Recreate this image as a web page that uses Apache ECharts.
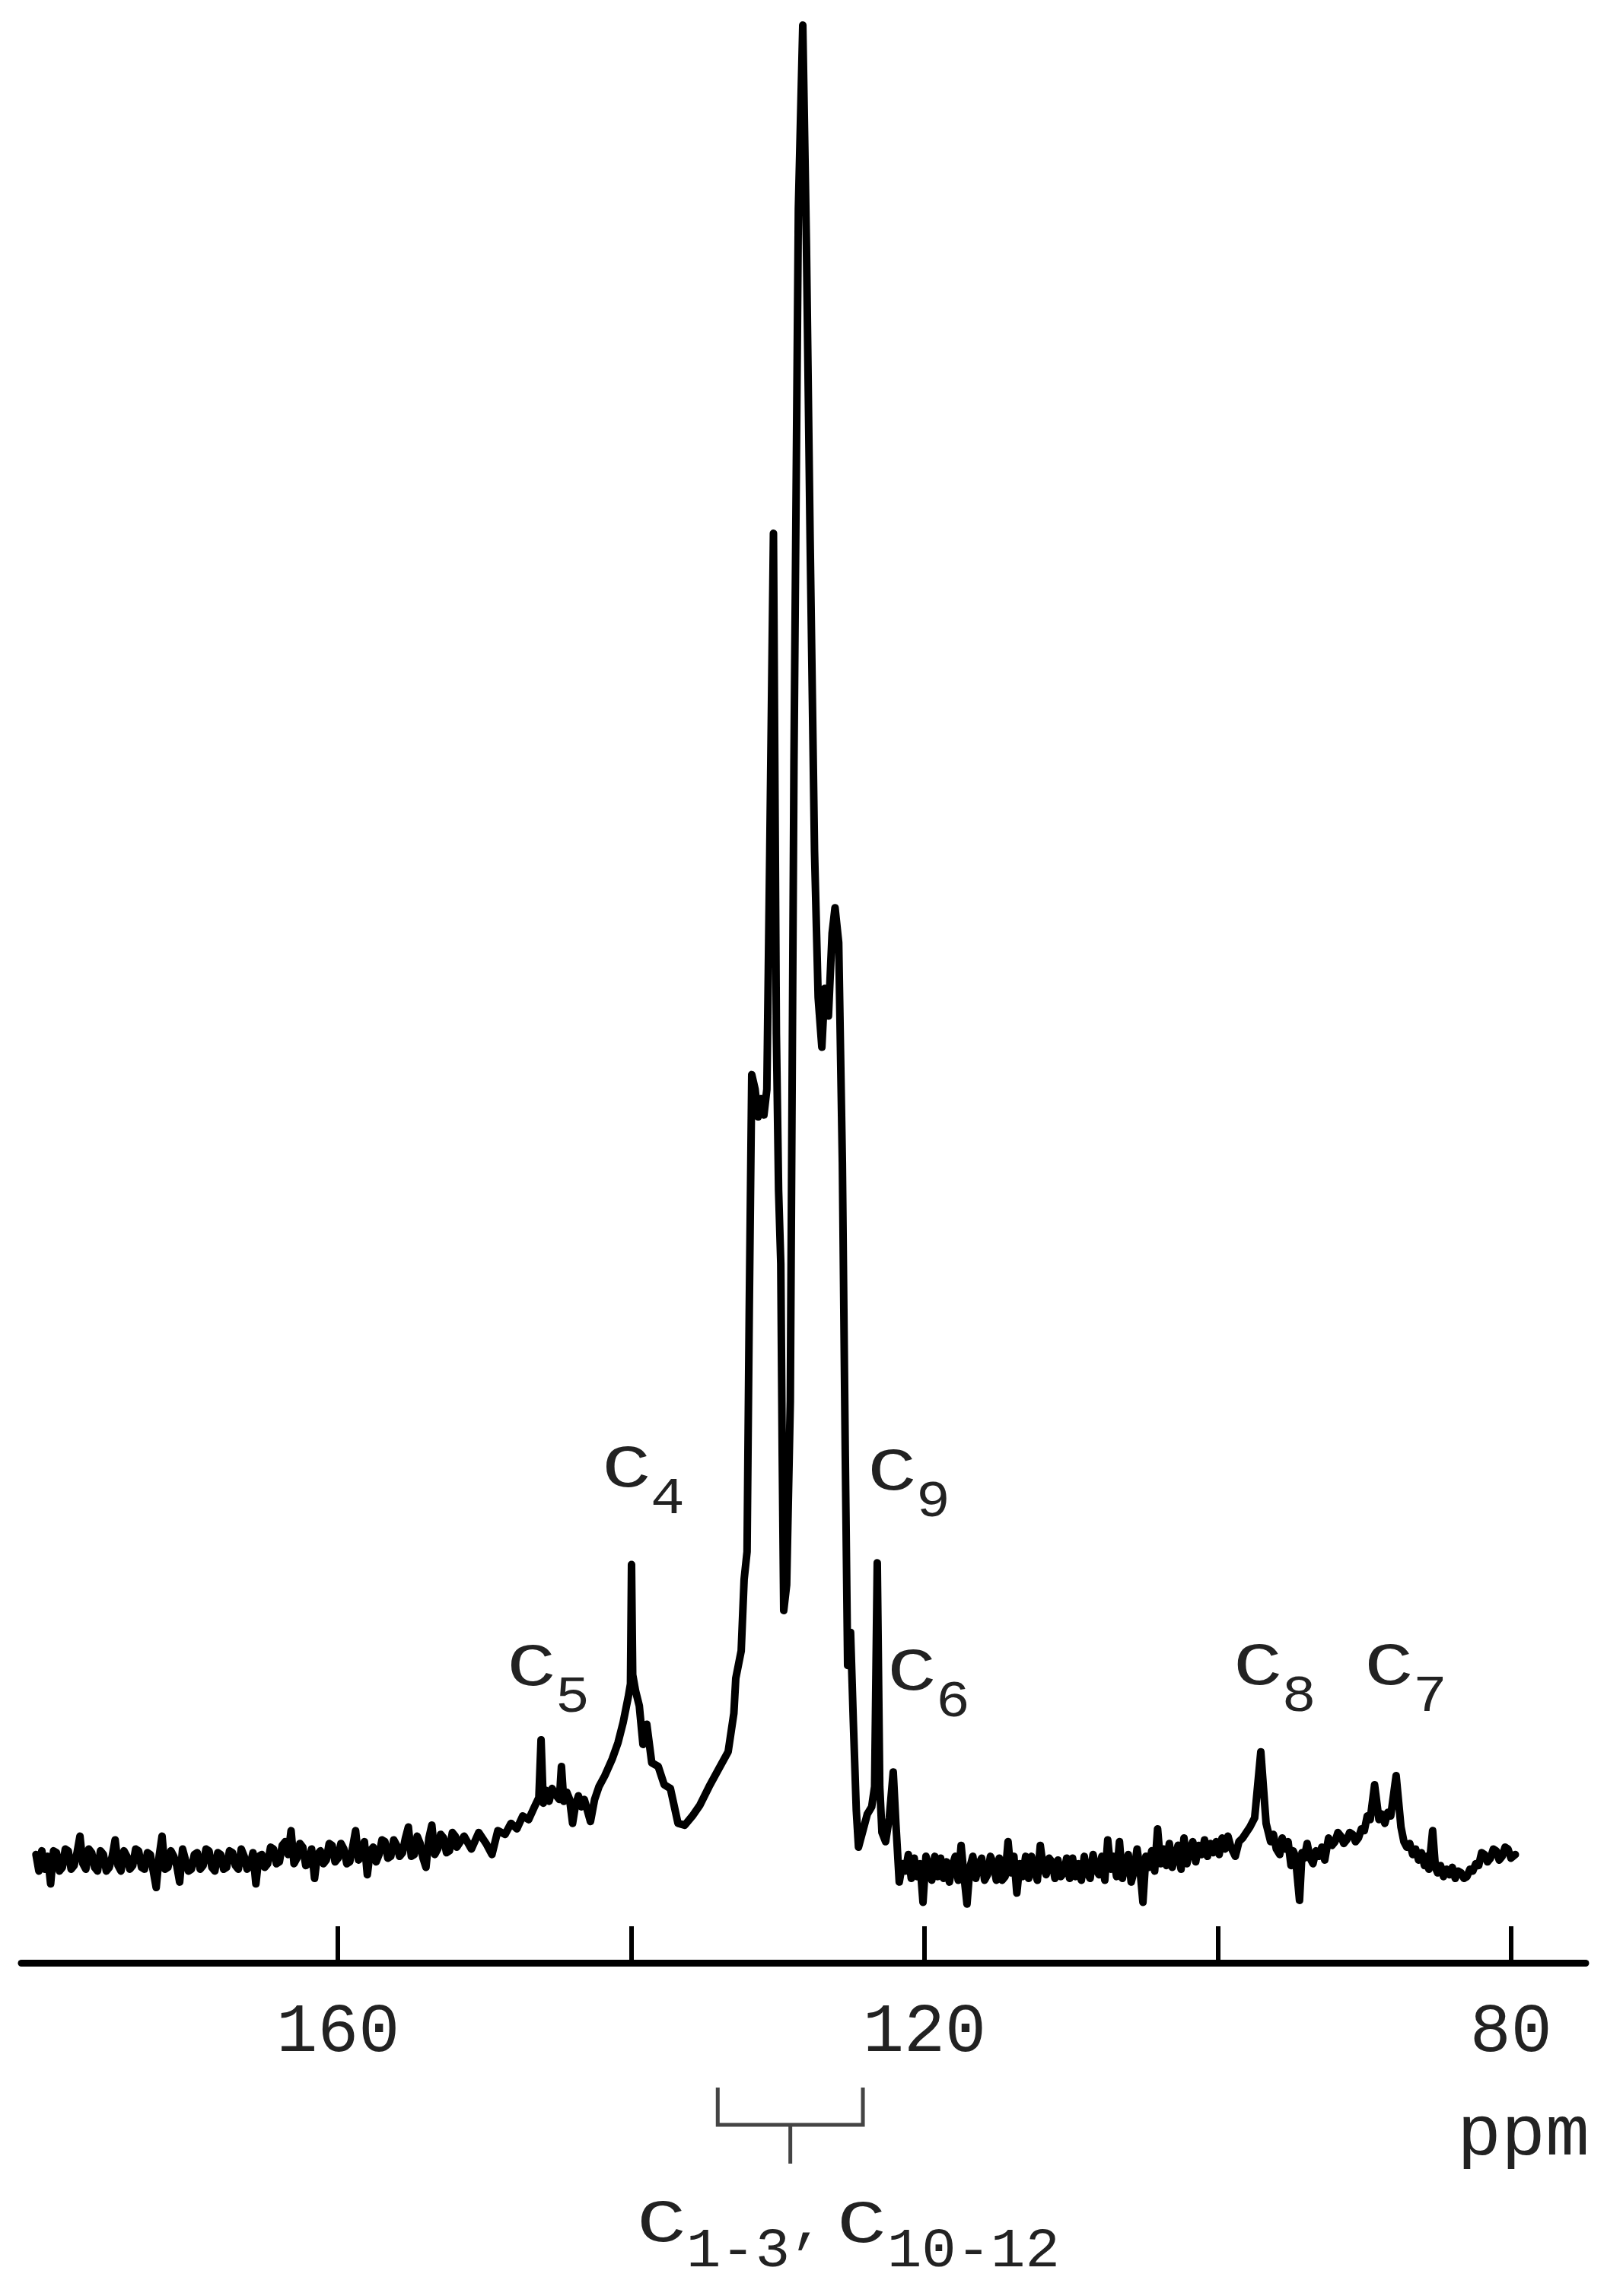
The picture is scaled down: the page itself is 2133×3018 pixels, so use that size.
<!DOCTYPE html>
<html>
<head>
<meta charset="utf-8">
<script src="https://cdn.jsdelivr.net/npm/echarts@6/dist/echarts.min.js"></script>
<style>
html,body{margin:0;padding:0;background:#fff;}
#chart{width:2133px;height:3018px;}
</style>
</head>
<body>
<div id="chart"></div>
<script>
// ---- DATA (13C NMR spectrum, ppm vs. relative intensity) ----
// left baseline region, sampled every 0.2 ppm starting at 180.6 ppm
const leftStartPpm = 180.6;
const leftStepPpm = 0.2;
const leftBaseline = [
  0.3,-0.6,0.5,-0.5,0.2,-1.3,0.5,0.4,-0.6,-0.4,
  0.6,0.5,-0.5,-0.3,0.4,1.3,-0.2,-0.5,0.6,0.4,
  -0.4,-0.6,0.5,0.3,-0.6,-0.4,0.2,1.1,-0.3,-0.6,
  0.5,0.2,-0.5,-0.3,0.6,0.5,-0.4,-0.5,0.4,0.3,
  -0.6,-1.5,0.2,1.3,-0.5,-0.4,0.5,0.2,-0.3,-1.2,
  0.6,0.0,-0.6,-0.5,0.3,0.4,-0.5,-0.3,0.6,0.5,
  -0.4,-0.6,0.4,0.3,-0.5,-0.4,0.5,0.4,-0.3,-0.5,
  0.6,0.2,-0.5,-0.3,0.4,-1.3,0.2,0.3,-0.4,-0.2,
  0.7,0.6,-0.2,-0.1,0.8,1.0,0.3,1.6,-0.2,0.1,
  0.9,0.7,-0.3,-0.2,0.6,-1.0,0.3,0.5,-0.2,0.0,
  0.9,0.8,-0.1,0.1,0.9,0.6,-0.2,-0.1,0.7,1.6,
  0.0,0.2,1.0,-0.8,0.5,0.7,-0.1,0.3,1.1,1.0,
  0.1,0.2,1.1,0.8,0.2,0.4,1.2,1.8,0.2,0.3,
  1.3,0.9,0.1,-0.4,1.2,1.9,0.3,0.6,1.4,1.2,
  0.4,0.5,1.5,1.3
];

// C5, C4, main aromatic cluster (C1-3, C10-12), C9, C6
const clusterPpm = [
  151.9,151.4,150.9,150.4,149.9,149.5,149.1,148.6,148.2,147.8,
  147.4,147.0,146.6,146.3,146.15,146.0,145.8,145.6,145.4,145.2,
  144.9,144.76,144.6,144.4,144.2,144.0,143.8,143.6,143.4,143.2,
  142.78,142.5,142.2,141.8,141.3,140.9,140.55,140.2,140.05,139.98,
  139.9,139.7,139.45,139.2,138.94,138.6,138.16,137.75,137.33,136.81,
  136.35,135.83,135.31,134.69,134.01,133.39,133.0,132.87,132.5,132.3,
  132.1,131.95,131.78,131.55,131.35,131.15,130.95,130.75,130.55,130.3,
  130.1,129.95,129.8,129.7,129.6,129.4,129.15,128.9,128.6,128.3,
  128.05,127.8,127.5,127.25,127.0,126.8,126.55,126.3,126.1,125.85,
  125.6,125.4,125.24,125.04,124.85,124.65,124.5,124.2,123.9,123.6,
  123.4,123.22,123.05,122.9,122.65,122.4,122.13,121.95,121.72,121.5
];
const clusterInt = [
  0.7,1.3,0.6,1.5,0.9,0.3,1.6,1.4,2.0,1.7,
  2.4,2.2,2.9,3.4,6.55,3.1,3.8,3.2,3.9,3.6,
  3.3,5.1,3.2,3.7,3.3,2.0,3.0,3.5,2.9,3.3,
  2.1,3.3,4.0,4.6,5.5,6.4,7.5,8.9,9.6,16.1,
  10.1,9.2,8.4,6.3,7.4,5.3,5.1,4.1,3.9,2.0,
  1.9,2.4,3.0,4.0,5.0,5.9,8.0,9.9,11.4,15.3,
  16.8,30.0,42.8,42.0,40.5,41.5,40.6,42.0,55.0,72.3,
  45.0,36.5,32.5,22.0,13.6,15.0,25.0,60.0,90.0,100.0,
  88.0,72.0,55.0,47.0,44.3,47.5,46.0,50.5,51.9,50.0,
  38.0,22.0,10.6,12.4,7.5,2.7,0.7,1.6,2.5,2.9,
  4.0,16.2,4.0,1.5,1.0,2.3,4.8,2.0,-1.2,-0.2
];

// right baseline region, sampled every 0.2 ppm starting at 121.3 ppm
const rightStartPpm = 121.3;
const rightStepPpm = 0.2;
const rightBaseline = [
  -0.6,0.3,-1.0,0.1,-0.9,-0.2,-2.3,0.2,-0.3,-1.1,
  0.2,-0.9,0.1,-1.0,-0.1,-1.2,-0.3,0.2,-1.1,0.8,
  -0.9,-2.4,-0.4,0.2,-1.0,-0.2,0.1,-1.1,-0.8,0.2,
  -0.2,-1.1,0.1,-1.1,-0.9,1.0,-0.7,0.2,-1.8,-0.2,
  -0.9,0.2,-1.0,0.2,-0.6,-1.1,0.8,-0.4,-0.8,0.1,
  -0.1,-1.0,0.0,-0.9,-0.7,0.1,-1.0,0.1,-0.9,-0.2,
  -1.1,0.2,-0.7,-1.0,0.3,-0.5,-0.8,0.2,-1.1,1.1,
  -0.5,0.2,-0.9,1.0,-1.0,-0.2,0.3,-1.2,-0.6,0.6,
  -0.5,-2.3,0.2,-0.4,0.5,-0.6,1.7,-0.2,0.6,-0.3,
  0.9,-0.4,0.2,0.8,-0.5,1.2,-0.2,0.6,1.0,-0.1,
  0.8,0.3,1.1,0.2,0.9,0.4,1.0,0.3,1.2,0.6,
  1.3,0.7
];

// C8 and C7 region
const tailPpm = [
  98.8,98.55,98.3,98.05,97.8,97.48,97.06,96.7,96.39,96.2,
  96.0,95.77,95.6,95.4,95.2,95.0,94.85,94.7,94.42,94.25,
  94.1,93.9,93.7,93.5,93.3,93.1,92.9,92.7,92.44,92.2,
  92.0,91.8,91.6,91.4,91.2,91.0,90.8,90.6,90.4,90.2,
  90.0,89.8,89.6,89.3,89.0,88.8,88.6,88.4,88.2,87.83,
  87.5,87.3,87.1,86.9,86.7,86.5,86.3,86.1,85.9,85.75,
  85.6,85.34,85.15,85.0,84.8,84.6,84.4,84.2,84.0,83.8,
  83.6,83.4,83.2,83.0,82.8,82.6,82.4,82.2,82.0,81.8,
  81.6,81.4,81.2,81.0,80.8,80.6,80.4,80.2,80.0,79.7
];
const tailInt = [
  0.2,1.0,1.2,1.5,1.8,2.3,5.9,2.0,1.0,1.4,
  0.6,0.3,1.2,0.6,1.0,-0.3,0.5,0.2,-2.2,0.4,
  0.1,0.9,0.1,-0.2,0.5,0.2,0.7,0.0,1.2,0.8,
  1.0,1.5,1.3,0.9,1.1,1.5,1.4,1.0,1.2,1.7,
  1.6,2.4,2.2,4.1,2.2,2.5,2.0,2.6,2.4,4.6,
  1.8,1.0,0.7,0.9,0.3,0.6,0.0,0.4,-0.3,0.2,
  -0.5,1.6,-0.4,-0.7,-0.3,-0.9,-0.5,-0.8,-0.4,-1.0,
  -0.6,-0.7,-1.0,-0.9,-0.5,-0.6,-0.2,-0.3,0.4,0.3,
  -0.1,0.1,0.6,0.5,0.0,0.2,0.7,0.6,0.1,0.3
];

// axis ticks
const tickValues = [160, 140, 120, 100, 80];
const tickLabelValues = [160, 120, 80];
const axisMinPpm = 74.9, axisMaxPpm = 181.6;
const intMin = -5.6, intMax = 100;

// peak labels: anchor = left edge / vertical centre of the "C" glyph (ppm, intensity)
const peakLabelSub = ['4', '9', '5', '6', '8', '7'];
const peakLabelPpm = [141.59, 123.48, 148.08, 122.13, 98.52, 89.59];
const peakLabelInt = [21.23, 21.06, 10.41, 10.16, 10.45, 10.45];

// bracket for C1-3, C10-12 (ppm)
const bracketPpm = [134.1, 129.15, 124.2];

// ---- BUILD ----
const spectrum = [];
leftBaseline.forEach((v, i) => spectrum.push([+(leftStartPpm - i * leftStepPpm).toFixed(2), v]));
clusterPpm.forEach((p, i) => spectrum.push([p, clusterInt[i]]));
rightBaseline.forEach((v, i) => spectrum.push([+(rightStartPpm - i * rightStepPpm).toFixed(2), v]));
tailPpm.forEach((p, i) => spectrum.push([p, tailInt[i]]));

const FONT = '"Liberation Mono", "DejaVu Sans Mono", monospace';
const chart = echarts.init(document.getElementById('chart'), null, {renderer: 'canvas'});

chart.setOption({
  animation: false,
  backgroundColor: '#ffffff',
  grid: {left: 28, right: 49, top: 33, bottom: 438, containLabel: false},
  xAxis: {
    type: 'value',
    inverse: true,
    min: axisMinPpm,
    max: axisMaxPpm,
    axisLine: {show: true, onZero: false, lineStyle: {color: '#000', width: 9}},
    axisTick: {show: true, inside: true, length: 48, customValues: tickValues,
      lineStyle: {color: '#000', width: 6}},
    axisLabel: {show: true, customValues: tickLabelValues, margin: 47,
      fontFamily: FONT, fontSize: 90, color: '#222'},
    splitLine: {show: false}
  },
  yAxis: {
    type: 'value', min: intMin, max: intMax, show: false,
    splitLine: {show: false}
  },
  series: [{
    type: 'line',
    data: spectrum,
    showSymbol: false,
    symbol: 'none',
    smooth: false,
    clip: false,
    lineStyle: {color: '#000', width: 10, join: 'round', cap: 'round'}
  }]
});

function px(ppm, v) {
  return chart.convertToPixel({xAxisIndex: 0, yAxisIndex: 0}, [ppm, v]);
}
function txt(x, y, text, size, sx) {
  return {type: 'text', x: x, y: y, scaleX: sx || 1, silent: true,
    style: {text: text, font: size + 'px ' + FONT, fill: '#222', align: 'left', verticalAlign: 'middle'}};
}

const els = [];
peakLabelSub.forEach((s, i) => {
  const p = px(peakLabelPpm[i], peakLabelInt[i]);
  els.push(txt(p[0] - 8, p[1], 'C', 80, 1.35));
  els.push(txt(p[0] + 56, p[1] + 38, s, 68, 1.1));
});

// bracket
const bl = px(bracketPpm[0], 0)[0], bc = px(bracketPpm[1], 0)[0], br = px(bracketPpm[2], 0)[0];
els.push({type: 'polyline', silent: true,
  shape: {points: [[bl, 2744], [bl, 2793], [br, 2793], [br, 2744]]},
  style: {stroke: '#444', lineWidth: 5, fill: null}});
els.push({type: 'line', silent: true,
  shape: {x1: bc, y1: 2793, x2: bc, y2: 2844},
  style: {stroke: '#444', lineWidth: 5}});

// C1-3, C10-12
els.push(txt(837, 2925, 'C', 80, 1.35));
els.push(txt(902, 2960, '1-3', 72, 1.05));
els.push(txt(1040, 2926, ',', 72));
els.push(txt(1100, 2926, 'C', 80, 1.35));
els.push(txt(1166, 2960, '10-12', 72, 1.05));

// axis unit
els.push(txt(1915, 2808, 'ppm', 92, 1.05));

chart.setOption({graphic: {elements: els}});
</script>
</body>
</html>
